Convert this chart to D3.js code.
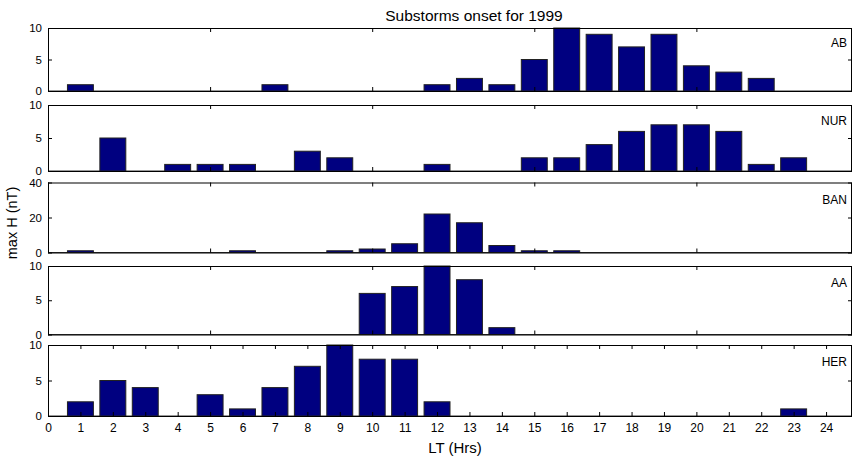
<!DOCTYPE html>
<html>
<head>
<meta charset="utf-8">
<script src="https://cdn.jsdelivr.net/npm/d3@7"></script>
<style>
  body { margin: 0; background: #fff; }
  svg { display: block; font-family: "Liberation Sans", Arial, sans-serif; }
</style>
</head>
<body>
<svg id="chart" width="853" height="456"></svg>
<script>
// local time hours 1..24
const hours = d3.range(1, 25);

// substorm counts per hour, one array per station
const stations = ["AB", "NUR", "BAN", "AA", "HER"];
const abValues  = [1,0,0,0,0,0,1,0,0,0,0,1,2,1,5,10,9,7,9,4,3,2,0,0];
const nurValues = [0,5,0,1,1,1,0,3,2,0,0,1,0,0,2,2,4,6,7,7,6,1,2,0];
const banValues = [1,0,0,0,0,1,0,0,1,2,5,22,17,4,1,1,0,0,0,0,0,0,0,0];
const aaValues  = [0,0,0,0,0,0,0,0,0,6,7,10,8,1,0,0,0,0,0,0,0,0,0,0];
const herValues = [2,5,4,0,3,1,4,7,10,8,8,2,0,0,0,0,0,0,0,0,0,0,1,0];
const seriesValues = [abValues, nurValues, banValues, aaValues, herValues];

const yMax = [10, 10, 40, 10, 10];
const yTicks = [[0, 5, 10], [0, 5, 10], [0, 20, 40], [0, 5, 10], [0, 5, 10]];
const xTicksTop = [0, 5, 10, 15, 20];
const xTicksBottom = d3.range(0, 25);

const titleText = "Substorms onset for 1999";
const xLabel = "LT (Hrs)";
const yLabel = "max H (nT)";

const panelTop = [28, 105, 182.5, 266, 345];
const panelBottom = [91, 171, 252.5, 334.5, 416];
const left = 48, right = 852;

const svg = d3.select("#chart");

const x = d3.scaleLinear().domain([0, 24.8]).range([left, right]);
const barW = x(0.8) - x(0);

stations.forEach(function(name, i) {
  const y = d3.scaleLinear().domain([0, yMax[i]]).range([panelBottom[i], panelTop[i]]);
  const g = svg.append("g");
  const data = hours.map((h, k) => ({ h: h, v: seriesValues[i][k] }));

  // baseline
  g.append("line")
    .attr("x1", left).attr("x2", right)
    .attr("y1", y(0)).attr("y2", y(0))
    .attr("stroke", "#333");

  g.selectAll("rect")
    .data(data.filter(d => d.v > 0))
    .join("rect")
    .attr("x", d => x(d.h) - barW / 2)
    .attr("width", barW)
    .attr("y", d => y(d.v))
    .attr("height", d => y(0) - y(d.v))
    .attr("fill", "#000080")
    .attr("stroke", "#222")
    .attr("stroke-width", 1);

  // box
  g.append("rect")
    .attr("x", left + 0.5).attr("y", panelTop[i] + 0.5)
    .attr("width", right - left - 1).attr("height", panelBottom[i] - panelTop[i])
    .attr("fill", "none").attr("stroke", "#000");

  // y ticks, inward on both sides
  const ya = d3.axisLeft(y).tickValues(yTicks[i]).tickSize(-4).tickPadding(6);
  g.append("g").attr("transform", `translate(${left},0)`).call(ya)
    .call(s => s.select(".domain").remove())
    .call(s => s.selectAll("text").attr("font-size", 11.5).attr("fill", "#000").attr("font-family", null));
  g.append("g").attr("transform", `translate(${right},0)`)
    .call(d3.axisRight(y).tickValues(yTicks[i]).tickSize(-4).tickFormat(""))
    .call(s => s.select(".domain").remove());

  // x ticks, inward top and bottom
  const tv = i === stations.length - 1 ? xTicksBottom : xTicksTop;
  g.append("g").attr("transform", `translate(0,${panelTop[i]})`)
    .call(d3.axisTop(x).tickValues(tv).tickSize(-4).tickFormat(""))
    .call(s => s.select(".domain").remove());
  const xb = d3.axisBottom(x).tickValues(tv).tickSize(-4).tickPadding(7);
  if (i !== stations.length - 1) xb.tickFormat("");
  g.append("g").attr("transform", `translate(0,${panelBottom[i]})`).call(xb)
    .call(s => s.select(".domain").remove())
    .call(s => s.selectAll("text").attr("font-size", 12).attr("fill", "#000").attr("font-family", null));

  // station label
  g.append("text")
    .attr("x", right - 5)
    .attr("y", y(yMax[i] * 0.76))
    .attr("dy", "0.35em")
    .attr("text-anchor", "end")
    .attr("font-size", 12)
    .text(name);
});

svg.append("text")
  .attr("x", 474).attr("y", 21)
  .attr("text-anchor", "middle")
  .attr("font-size", 15.5)
  .text(titleText);

svg.append("text")
  .attr("x", 455).attr("y", 453)
  .attr("text-anchor", "middle")
  .attr("font-size", 15)
  .text(xLabel);

svg.append("text")
  .attr("transform", "translate(17,223) rotate(-90)")
  .attr("text-anchor", "middle")
  .attr("font-size", 14.5)
  .text(yLabel);
</script>
</body>
</html>
